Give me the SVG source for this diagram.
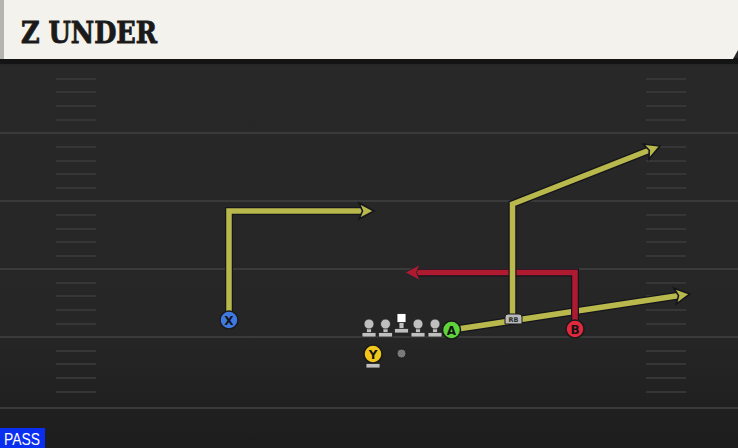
<svg xmlns="http://www.w3.org/2000/svg" width="738" height="448" viewBox="0 0 738 448">
<style>
.yard{stroke:#3a3a3a;stroke-width:2}
.hash{stroke:#363636;stroke-width:2}
.out{fill:none;stroke:#15151c;stroke-width:8;stroke-linejoin:miter;stroke-linecap:butt}
.yel{fill:none;stroke:#b9b84c;stroke-width:5.5;stroke-linejoin:miter}
.red{fill:none;stroke:#ae1a30;stroke-width:5.5;stroke-linejoin:miter}
.lm{fill:#bfbfbf;stroke:#222;stroke-width:0.8}
.plbl{font-family:"DejaVu Sans","Liberation Sans",sans-serif;font-weight:bold;font-size:12px;fill:#141414;text-anchor:middle}
</style>
<defs>
<linearGradient id="fieldg" x1="0" y1="0" x2="0" y2="1">
<stop offset="0" stop-color="#1c1c1c"/>
<stop offset="0.02" stop-color="#282828"/>
<stop offset="0.7" stop-color="#262626"/>
<stop offset="1" stop-color="#1d1d1d"/>
</linearGradient>
<marker id="ay" markerUnits="userSpaceOnUse" markerWidth="20" markerHeight="20" refX="0" refY="0" orient="auto" overflow="visible">
<path d="M-6,-8 L9,0 L-6,8 L-2.5,0 Z" fill="#b9b84c" stroke="#15151c" stroke-width="1.6" stroke-linejoin="miter"/>
</marker>
<marker id="ar" markerUnits="userSpaceOnUse" markerWidth="20" markerHeight="20" refX="0" refY="0" orient="auto" overflow="visible">
<path d="M-6,-8 L9,0 L-6,8 L-2.5,0 Z" fill="#ae1a30" stroke="#26262a" stroke-width="1" stroke-linejoin="miter"/>
</marker>
</defs>
<rect x="0" y="0" width="738" height="448" fill="#262626"/>
<rect x="0" y="58" width="738" height="390" fill="url(#fieldg)"/>
<g id="field">
<line class="yard" x1="0" y1="133" x2="738" y2="133"/>
<line class="yard" x1="0" y1="201" x2="738" y2="201"/>
<line class="yard" x1="0" y1="269" x2="738" y2="269"/>
<line class="yard" x1="0" y1="337" x2="738" y2="337"/>
<line class="yard" x1="0" y1="408" x2="738" y2="408"/>
<g class="hash">
<path d="M56,79H96M56,92H96M56,106H96M56,120H96M56,147H96M56,161H96M56,174H96M56,188H96M56,215H96M56,229H96M56,242H96M56,256H96M56,283H96M56,296H96M56,310H96M56,324H96M56,351H96M56,364H96M56,378H96M56,392H96"/>
<path d="M646,79H686M646,92H686M646,106H686M646,120H686M646,147H686M646,161H686M646,174H686M646,188H686M646,215H686M646,229H686M646,242H686M646,256H686M646,283H686M646,296H686M646,310H686M646,324H686M646,351H686M646,364H686M646,378H686M646,392H686"/>
</g>
</g>
<g id="banner">
<rect x="0" y="58" width="738" height="6" fill="#141414"/>
<path d="M0,0 H738 V50 L733,59 H0 Z" fill="#f4f2ec"/>
<rect x="0" y="0" width="4" height="59" fill="#b4b4b0"/>
<text x="21" y="43" font-family="'DejaVu Serif Condensed','DejaVu Serif',serif" font-weight="bold" font-size="29" fill="#1a1a1a" stroke="#1a1a1a" stroke-width="0.8" textLength="136" lengthAdjust="spacingAndGlyphs">Z UNDER</text>
</g>
<g id="connectors">
<path class="out" d="M451,330 L681,295.3"/>
<path class="yel" d="M451,330 L681,295.3" marker-end="url(#ay)"/>
<path class="out" d="M575,329 V272.5 H414"/>
<path class="red" d="M575,329 V272.5 H414" marker-end="url(#ar)"/>
<path class="out" d="M229,320 V211 H365"/>
<path class="yel" d="M229,320 V211 H365" marker-end="url(#ay)"/>
<path class="out" d="M512.5,318 V204 L651.6,149.3"/>
<path class="yel" d="M512.5,318 V204 L651.6,149.3" marker-end="url(#ay)"/>
</g>
<g id="lt">
<rect class="lm" x="366.5" y="325" width="5" height="9"/>
<rect class="lm" x="362" y="332.5" width="14" height="4.5"/>
<circle class="lm" cx="369" cy="324" r="5"/>
</g>
<g id="lg">
<rect class="lm" x="383" y="325" width="5" height="9"/>
<rect class="lm" x="378.5" y="332.5" width="14" height="4.5"/>
<circle class="lm" cx="385.5" cy="324" r="5"/>
</g>
<g id="c">
<rect class="lm" x="399" y="321" width="5" height="9"/>
<rect class="lm" x="394.5" y="328.5" width="14" height="4.5"/>
<rect x="397" y="313.5" width="9" height="9" fill="#ffffff" stroke="#1c1c1c" stroke-width="0.8"/>
</g>
<g id="rg">
<rect class="lm" x="415.5" y="325" width="5" height="9"/>
<rect class="lm" x="411" y="332.5" width="14" height="4.5"/>
<circle class="lm" cx="418" cy="324" r="5"/>
</g>
<g id="rt">
<rect class="lm" x="432.5" y="325" width="5" height="9"/>
<rect class="lm" x="428" y="332.5" width="14" height="4.5"/>
<circle class="lm" cx="435" cy="324" r="5"/>
</g>
<g id="qb">
<circle cx="401.5" cy="353.5" r="4.5" fill="#7a7a7a" stroke="#1c1c1c" stroke-width="1"/>
</g>
<g id="y">
<rect class="lm" x="370.5" y="360" width="5" height="5"/>
<rect class="lm" x="366" y="363.5" width="14" height="4.5"/>
<circle cx="373" cy="354" r="9" fill="#f2c61a" stroke="#1a1a1a" stroke-width="1.5"/>
<text class="plbl" x="373" y="358.5">Y</text>
</g>
<g id="x">
<circle cx="229" cy="320" r="9" fill="#3f79e0" stroke="#1a1a1a" stroke-width="1.5"/>
<text class="plbl" x="229" y="324.5">X</text>
</g>
<g id="a">
<circle cx="451.5" cy="330" r="9" fill="#5fd33b" stroke="#1a1a1a" stroke-width="1.5"/>
<text class="plbl" x="451.5" y="334.5">A</text>
</g>
<g id="b">
<circle cx="575" cy="329" r="9" fill="#e1283c" stroke="#1a1a1a" stroke-width="1.5"/>
<text class="plbl" x="575" y="333.5">B</text>
</g>
<g id="rb">
<path d="M505,324 V317 Q505,314 508,314 H519 Q522,314 522,317 V324 Z" fill="#b9b9b9" stroke="#1a1a1a" stroke-width="1"/>
<text x="513.5" y="322" font-family="'DejaVu Sans',sans-serif" font-weight="bold" font-size="6.5" fill="#2a2a2a" text-anchor="middle">RB</text>
</g>
<g id="pass">
<rect x="0" y="428" width="45" height="20" fill="#0b2ff0"/>
<text x="4" y="445" font-family="'Liberation Sans',Arial,sans-serif" font-size="16" fill="#ffffff" textLength="36" lengthAdjust="spacingAndGlyphs">PASS</text>
</g>
</svg>
